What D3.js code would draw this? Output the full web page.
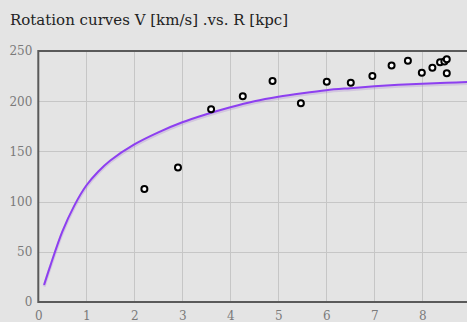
<!DOCTYPE html>
<html>
<head>
<meta charset="utf-8">
<script src="https://cdn.jsdelivr.net/npm/d3@7"></script>
<style>
  html, body { margin: 0; padding: 0; background: #e4e4e4; overflow: hidden; }
  svg { display: block; }
  .tick text { font-family: "DejaVu Serif", serif; font-size: 12px; fill: #7a7a7a; }
</style>
</head>
<body>
<script>
// Observed rotation speeds of the Galaxy: radius [kpc] and speed [km/s]
const obsRadius   = [2.21, 2.91, 3.60, 4.26, 4.88, 5.47, 6.01, 6.51, 6.96, 7.36, 7.70, 7.99, 8.21, 8.37, 8.46, 8.51, 8.51];
const obsVelocity = [112.5, 134, 192, 205, 220, 198, 219.4, 218.4, 225, 235.5, 240.4, 228.4, 233.4, 238.8, 239.5, 241.7, 227.8];

// Model rotation curve sampled along the radius
const modelRadius   = [0.12, 0.25, 0.5, 0.75, 1, 1.25, 1.5, 2, 2.5, 3, 3.5, 4, 4.5, 5, 5.5, 6, 6.5, 7, 7.5, 8, 8.5, 9];
const modelVelocity = [17, 36, 70, 96, 116, 130, 141, 157, 169, 179, 187, 194, 200, 204.5, 208, 211, 213, 214.8, 216.3, 217.5, 218.4, 219.2];

// Axis ticks
const xTicks = [0, 1, 2, 3, 4, 5, 6, 7, 8, 9];
const yTicks = [0, 50, 100, 150, 200, 250];

const W = 480, H = 322;
const plotLeft = 38.3, plotTop = 51, plotBottom = 302;

const svg = d3.select("body").append("svg").attr("width", W).attr("height", H);

const x = d3.scaleLinear().domain([0, 9]).range([plotLeft, plotLeft + 432]);
const y = d3.scaleLinear().domain([0, 250]).range([plotBottom, plotTop]);

// Title
svg.append("text")
  .attr("x", 10).attr("y", 25)
  .attr("font-family", "DejaVu Serif, serif")
  .attr("font-size", 15)
  .attr("fill", "#222")
  .text("Rotation curves V [km/s] .vs. R [kpc]");

// Grid
const grid = svg.append("g").attr("stroke", "#c6c6c6").attr("stroke-width", 1);
grid.selectAll(".vg").data(xTicks.filter(d => d > 0)).join("line")
  .attr("x1", d => Math.round(x(d)) + 0.5).attr("x2", d => Math.round(x(d)) + 0.5)
  .attr("y1", y(250)).attr("y2", y(0));
grid.selectAll(".hg").data(yTicks.filter(d => d > 0 && d < 250)).join("line")
  .attr("y1", d => Math.round(y(d)) + 0.5).attr("y2", d => Math.round(y(d)) + 0.5)
  .attr("x1", x(0)).attr("x2", x(9));

// Axes (labels only)
const xAxis = svg.append("g")
  .attr("transform", `translate(0,${plotBottom})`)
  .call(d3.axisBottom(x).tickValues(xTicks).tickSize(0).tickPadding(9).tickFormat(d3.format("d")));
xAxis.select(".domain").remove();

const yAxis = svg.append("g")
  .attr("transform", `translate(${plotLeft},0)`)
  .call(d3.axisLeft(y).tickValues(yTicks).tickSize(0).tickPadding(6).tickFormat(d3.format("d")));
yAxis.select(".domain").remove();

// Frame
svg.append("rect")
  .attr("x", x(0)).attr("y", y(250))
  .attr("width", x(9) - x(0)).attr("height", y(0) - y(250))
  .attr("fill", "none").attr("stroke", "#5a5a5a").attr("stroke-width", 2);

// Model curve with a soft shadow
const line = d3.line().x((d, i) => x(modelRadius[i])).y((d, i) => y(modelVelocity[i])).curve(d3.curveCatmullRom.alpha(0.5));
svg.append("path")
  .datum(modelVelocity)
  .attr("d", line)
  .attr("transform", "translate(0,1.5)")
  .attr("fill", "none").attr("stroke", "#9a6bd0").attr("stroke-opacity", 0.25).attr("stroke-width", 3);
svg.append("path")
  .datum(modelVelocity)
  .attr("d", line)
  .attr("fill", "none").attr("stroke", "#8d3ff0").attr("stroke-width", 2);

// Observations
svg.append("g").selectAll("circle").data(obsVelocity).join("circle")
  .attr("cx", (d, i) => x(obsRadius[i]))
  .attr("cy", d => y(d))
  .attr("r", 3)
  .attr("fill", "#fff").attr("stroke", "#000").attr("stroke-width", 2);
</script>
</body>
</html>
